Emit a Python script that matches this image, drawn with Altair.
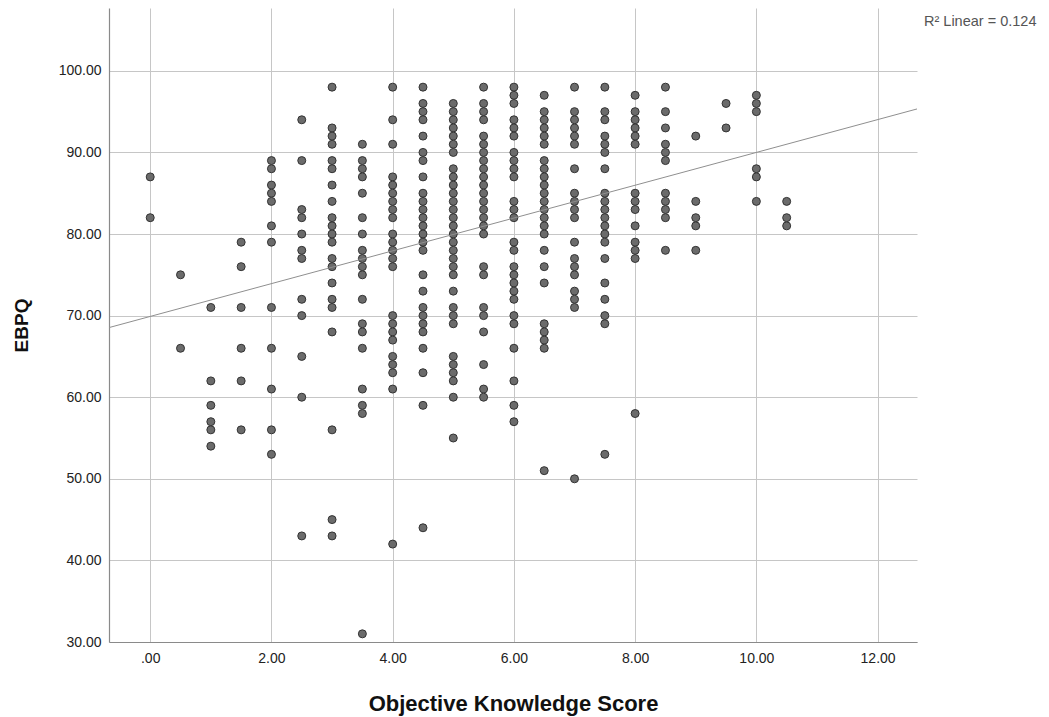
import altair as alt
import pandas as pd

# EBPQ values, one list per Objective Knowledge Score column
knowledge_levels = [0, 0.5, 1, 1.5, 2, 2.5, 3, 3.5, 4, 4.5, 5, 5.5, 6, 6.5, 7, 7.5, 8, 8.5, 9, 9.5, 10, 10.5]

ebpq_k0_0 = [87, 82]
ebpq_k0_5 = [75, 66]
ebpq_k1_0 = [71, 62, 59, 57, 56, 54]
ebpq_k1_5 = [79, 76, 71, 66, 62, 56]
ebpq_k2_0 = [89, 88, 86, 85, 84, 81, 79, 71, 66, 61, 56, 53]
ebpq_k2_5 = [94, 89, 83, 82, 80, 78, 77, 72, 70, 65, 60, 43]
ebpq_k3_0 = [98, 93, 92, 91, 89, 88, 86, 84, 82, 81, 80, 79, 77, 76, 74, 72, 71, 68, 56, 45, 43]
ebpq_k3_5 = [91, 89, 88, 87, 85, 82, 80, 78, 77, 76, 75, 72, 69, 68, 66, 61, 59, 58, 31]
ebpq_k4_0 = [98, 94, 91, 87, 86, 85, 84, 83, 82, 80, 79, 78, 77, 76, 70, 69, 68, 67, 65, 64, 63, 61, 42]
ebpq_k4_5 = [98, 96, 95, 94, 92, 90, 89, 87, 85, 84, 83, 82, 81, 80, 79, 78, 75, 73, 71, 70, 69, 68, 66, 63, 59, 44]
ebpq_k5_0 = [96, 95, 94, 93, 92, 91, 90, 88, 87, 86, 85, 84, 83, 82, 81, 80, 79, 78, 77, 76, 75, 73, 71, 70, 69,
             65, 64, 63, 62, 60, 55]
ebpq_k5_5 = [98, 96, 95, 94, 92, 91, 90, 89, 88, 87, 86, 85, 84, 83, 82, 81, 80, 76, 75, 71, 70, 68, 64, 61, 60]
ebpq_k6_0 = [98, 97, 96, 94, 93, 92, 90, 89, 88, 87, 84, 83, 82, 79, 78, 76, 75, 74, 73, 72, 70, 69, 66, 62, 59, 57]
ebpq_k6_5 = [97, 95, 94, 93, 92, 91, 89, 88, 87, 86, 85, 84, 83, 82, 81, 80, 78, 76, 74, 69, 68, 67, 66, 51]
ebpq_k7_0 = [98, 95, 94, 93, 92, 91, 88, 85, 84, 83, 82, 79, 77, 76, 75, 73, 72, 71, 50]
ebpq_k7_5 = [98, 95, 94, 92, 91, 90, 88, 85, 84, 83, 82, 81, 80, 79, 77, 74, 72, 70, 69, 53]
ebpq_k8_0 = [97, 95, 94, 93, 92, 91, 85, 84, 83, 81, 79, 78, 77, 58]
ebpq_k8_5 = [98, 95, 93, 91, 90, 89, 85, 84, 83, 82, 78]
ebpq_k9_0 = [92, 84, 82, 81, 78]
ebpq_k9_5 = [96, 93]
ebpq_k10_0 = [97, 96, 95, 88, 87, 84]
ebpq_k10_5 = [84, 82, 81]

ebpq_columns = [ebpq_k0_0, ebpq_k0_5, ebpq_k1_0, ebpq_k1_5, ebpq_k2_0, ebpq_k2_5, ebpq_k3_0, ebpq_k3_5,
                ebpq_k4_0, ebpq_k4_5, ebpq_k5_0, ebpq_k5_5, ebpq_k6_0, ebpq_k6_5, ebpq_k7_0, ebpq_k7_5,
                ebpq_k8_0, ebpq_k8_5, ebpq_k9_0, ebpq_k9_5, ebpq_k10_0, ebpq_k10_5]

# Fit line as printed on the chart
fit_intercept = 69.9
fit_slope = 2.01
r2_label = "R\u00b2 Linear = 0.124"

x_ticks = [0, 2, 4, 6, 8, 10, 12]
y_ticks = [30, 40, 50, 60, 70, 80, 90, 100]
x_domain = [-0.68, 12.65]
y_domain = [30, 107.7]

rows = []
for k, col in zip(knowledge_levels, ebpq_columns):
    for v in col:
        rows.append({"Objective Knowledge Score": k, "EBPQ": v})
df = pd.DataFrame(rows)

fit_df = pd.DataFrame({
    "Objective Knowledge Score": x_domain,
    "EBPQ": [fit_intercept + fit_slope * x for x in x_domain],
})

FONT = "Liberation Sans"

x_enc = alt.X(
    "Objective Knowledge Score:Q",
    scale=alt.Scale(domain=x_domain, nice=False, zero=False),
    axis=alt.Axis(
        values=x_ticks,
        labelExpr="datum.value == 0 ? '.00' : format(datum.value, '.2f')",
        title="Objective Knowledge Score",
        ticks=False,
        labelPadding=9,
        titlePadding=28,
        titleFontSize=22,
    ),
)
y_enc = alt.Y(
    "EBPQ:Q",
    scale=alt.Scale(domain=y_domain, nice=False, zero=False),
    axis=alt.Axis(
        values=y_ticks,
        format=".2f",
        title="EBPQ",
        ticks=False,
        labelPadding=8,
        titlePadding=27,
        titleFontSize=19,
    ),
)

points = alt.Chart(df).mark_circle(
    size=64, color="#6b6b6b", stroke="#333333", strokeWidth=1, opacity=1
).encode(x=x_enc, y=y_enc)

fit = alt.Chart(fit_df).mark_line(color="#8f8f8f", strokeWidth=1, clip=True).encode(
    x="Objective Knowledge Score:Q", y="EBPQ:Q"
)

r2 = alt.Chart(pd.DataFrame({"label": [r2_label]})).mark_text(
    align="left", baseline="middle", font=FONT, fontSize=14.5, color="#555555"
).encode(text="label:N", x=alt.value(815), y=alt.value(14))

chart = (
    alt.layer(points, fit, r2)
    .properties(width=808, height=634, padding={"left": 4, "top": 0, "right": 0, "bottom": 2})
    .configure_view(stroke=None)
    .configure_axis(
        grid=True,
        gridColor="#c6c6c6",
        gridWidth=1,
        domainColor="#8a8a8a",
        domainWidth=1.2,
        labelFont=FONT,
        labelFontSize=14,
        labelColor="#222222",
        titleFont=FONT,
        titleFontWeight="bold",
        titleColor="#111111",
    )
)

chart.save("out.html", embed_options={"renderer": "svg", "actions": False})
